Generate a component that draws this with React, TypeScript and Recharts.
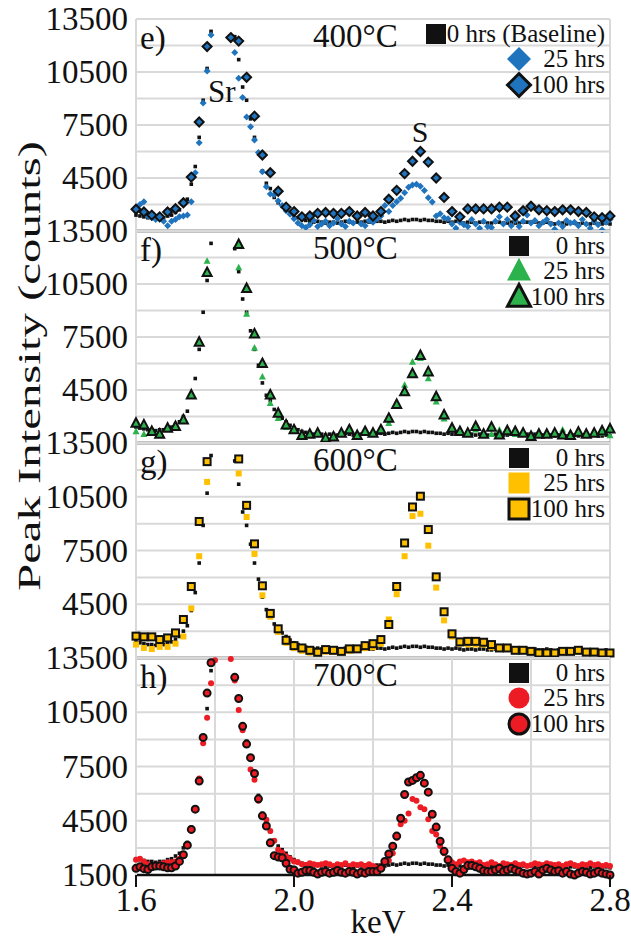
import React from "react";
import { ScatterChart, Scatter, XAxis, YAxis, CartesianGrid } from "recharts";

// energy channels (keV)
const KEV_FINE = [
  1.6, 1.61, 1.62, 1.63, 1.64, 1.65, 1.66, 1.67, 1.68, 1.69,
  1.7, 1.71, 1.72, 1.73, 1.74, 1.75, 1.76, 1.77, 1.78, 1.79,
  1.8, 1.81, 1.82, 1.83, 1.84, 1.85, 1.86, 1.87, 1.88, 1.89,
  1.9, 1.91, 1.92, 1.93, 1.94, 1.95, 1.96, 1.97, 1.98, 1.99,
  2.0, 2.01, 2.02, 2.03, 2.04, 2.05, 2.06, 2.07, 2.08, 2.09,
  2.1, 2.11, 2.12, 2.13, 2.14, 2.15, 2.16, 2.17, 2.18, 2.19,
  2.2, 2.21, 2.22, 2.23, 2.24, 2.25, 2.26, 2.27, 2.28, 2.29,
  2.3, 2.31, 2.32, 2.33, 2.34, 2.35, 2.36, 2.37, 2.38, 2.39,
  2.4, 2.41, 2.42, 2.43, 2.44, 2.45, 2.46, 2.47, 2.48, 2.49,
  2.5, 2.51, 2.52, 2.53, 2.54, 2.55, 2.56, 2.57, 2.58, 2.59,
  2.6, 2.61, 2.62, 2.63, 2.64, 2.65, 2.66, 2.67, 2.68, 2.69,
  2.7, 2.71, 2.72, 2.73, 2.74, 2.75, 2.76, 2.77, 2.78, 2.79,
  2.8,
];
const KEV_COARSE = [
  1.6, 1.62, 1.64, 1.66, 1.68, 1.7, 1.72, 1.74, 1.76, 1.78,
  1.8, 1.82, 1.84, 1.86, 1.88, 1.9, 1.92, 1.94, 1.96, 1.98,
  2.0, 2.02, 2.04, 2.06, 2.08, 2.1, 2.12, 2.14, 2.16, 2.18,
  2.2, 2.22, 2.24, 2.26, 2.28, 2.3, 2.32, 2.34, 2.36, 2.38,
  2.4, 2.42, 2.44, 2.46, 2.48, 2.5, 2.52, 2.54, 2.56, 2.58,
  2.6, 2.62, 2.64, 2.66, 2.68, 2.7, 2.72, 2.74, 2.76, 2.78,
  2.8,
];

// 0 hrs baseline (same sample in every panel), null = above 13500
const BASELINE_0H = [
  2400, 2350, 2300, 2250, 2250, 2200, 2250, 2250, 2350, 2400,
  2550, 2700, 3000, 3300, 4150, 5150, 6800, 8900, 10700, 12800,
  null, null, null, null, null, 12500, 11200, 9650, 8900, 7850,
  6800, 5900, 4900, 4200, 3900, 3400, 3100, 2900, 2700, 2500,
  2350, 2250, 2150, 2100, 2050, 2000, 2050, 2000, 1950, 2000,
  2000, 1950, 2000, 2050, 2000, 1950, 2000, 2000, 2050, 2000,
  2000, 2050, 2050, 2000, 2050, 2100, 2050, 2100, 2150, 2100,
  2150, 2150, 2100, 2150, 2100, 2100, 2050, 2050, 2000, 2050,
  2000, 2050, 2000, 1950, 2000, 2000, 1950, 2000, 2000, 1950,
  1950, 2000, 2000, 1950, 1950, 2000, 1950, 1950, 2000, 2000,
  2000, 2000, 1950, 1950, 2000, 1950, 1900, 1950, 1950, 1900,
  1950, 1950, 1900, 1950, 1900, 1900, 1950, 1900, 1900, 1950,
  1900,
];

// e) 400 °C
const E_25H = [
  2850, 3000, 3150, 2350, 2250, 2150, 2200, 2050, 1800, 2050,
  2150, 2300, 2350, 2400, 3150, 4800, 6500, 8750, 10550, 12600,
  null, null, null, null, 12500, 11600, 10150, 9050, 7950, 7400,
  6650, 5950, 4850, 4000, 3600, 3550, 3200, 2950, 2650, 2450,
  2200, 1950, 1800, 1700, 1850, 2100, 1750, 1900, 2050, 1800,
  1950, 2200, 1900, 1750, 2050, 1950, 2250, 1900, 1800, 2100,
  2000, 2200, 2350, 2950, 2600, 2950, 3150, 3360, 3660, 3980,
  4110, 4150, 4040, 3790, 3380, 3140, 2350, 2480, 2250, 2200,
  1900, 1650, 2000, 1850, 1750, 2150, 1900, 1650, 2050, 1750,
  1700, 2050, 2300, 1900, 2150, 1800, 2100, 1750, 2050, 2400,
  1950, 2100, 1800, 2000, 2150, 1900, 1600, 1950, 1750, 2100,
  1950, 2000, 1800, 2150, 1900, 1650, 2050, 1850, 1550, 2000,
  2150,
];
const E_100H = [
  2730, 2580, 2400, 2300, 2580, 2760, 3100, 4550, 7670, 11940,
  null, null, 12450, 12250, 10200, 8000, 5800, 4800, 3750, 2850,
  2600, 2300, 2350, 2500, 2550, 2500, 2500, 2600, 2350, 2550,
  2350, 2600, 3300, 3800, 4750, 5450, 6000, 5400, 4500, 3400,
  2600, 2300, 2750, 2750, 2750, 2750, 2850, 2850, 2350, 2650,
  2900, 2700, 2650, 2600, 2700, 2700, 2600, 2550, 2300, 2250,
  2350,
];

// f) 500 °C
const F_25H = [
  2160, 2000, 2150, 2050, 2300, 2400, 2750, 4150, 7150, 11800,
  null, null, null, 11430, 8800, 6880, 5250, 3750, 2900, 2400,
  2200, 1950, 2050, 2100, 1900, 1950, 2050, 2300, 2000, 2150,
  2050, 2300, 2620, 3600, 4780, 6090, 6300, 5150, 3840, 2870,
  2300, 2100, 2050, 2250, 2150, 2000, 2250, 2100, 2000, 2050,
  2000, 2150, 2100, 2050, 2250, 2100, 2050, 2000, 2150, 2050,
  1930,
];
const F_100H = [
  2620, 2530, 2160, 2000, 2340, 2440, 2810, 4220, 7210, 11150,
  null, null, null, 12740, 10250, 7680, 6000, 4220, 3190, 2530,
  2250, 1930, 2000, 2060, 1780, 1850, 2060, 2250, 1930, 2150,
  2060, 2250, 2900, 3690, 4400, 5430, 6460, 5530, 4120, 3090,
  2340, 2150, 2060, 2440, 2000, 2400, 1960, 2200, 2150, 2060,
  1880, 2000, 2000, 2060, 1960, 1930, 2120, 2000, 2060, 2190,
  2300,
];

// g) 600 °C
const G_25H = [
  2250, 2060, 2000, 2120, 2120, 2300, 2700, 4270, 7180, 11330,
  null, null, null, 11800, 9370, 7310, 5000, 3800, 2950, 2350,
  2050, 1900, 1800, 1750, 1850, 1850, 1800, 1900, 1950, 2050,
  2100, 2300, 3650, 5060, 7180, 9420, 9550, 7770, 5430, 3600,
  2700, 2300, 2250, 2250, 2250, 2100, 2000, 2000, 1900, 1900,
  1850, 1800, 1800, 1800, 1850, 1850, 1850, 1800, 1800, 1750,
  1800,
];
const G_100H = [
  2720, 2680, 2680, 2530, 2620, 2900, 3650, 5490, 9120, 12460,
  null, null, null, 12610, 10020, 7870, 5530, 3990, 3130, 2490,
  2190, 2060, 1930, 1820, 1970, 1930, 1870, 2010, 2010, 2190,
  2300, 2530, 3370, 5490, 7920, 9930, 10530, 8670, 6030, 4080,
  2850, 2400, 2430, 2430, 2380, 2250, 2060, 2060, 1930, 1930,
  1870, 1780, 1780, 1780, 1870, 1870, 1930, 1830, 1830, 1780,
  1780,
];

// h) 700 °C
const H_25H = [
  2350, 2400, 2250, 2100, 2000, 2050, 2100, 2150, 2200, 2200,
  2250, 2400, 2650, 3200, 3950, 5100, 6830, 8790, 10190, 12100,
  13370, null, null, null, 13450, 12250, 10620, 9500, 8790, 7330,
  6770, 5600, 4800, 4550, 3930, 3400, 2900, 2750, 2530, 2400,
  2250, 2200, 2100, 2050, 2150, 2100, 2050, 2100, 2150, 2100,
  2000, 2100, 2050, 2150, 2000, 2100, 2050, 2100, 2000, 2100,
  2000, 1900, 2000, 2150, 2300, 2700, 3560, 4300, 4500, 4900,
  5700, 5610, 5240, 5140, 4580, 3930, 3740, 3100, 2700, 2400,
  2200, 2100, 2250, 2300, 2200, 2250, 2150, 2200, 2050, 2100,
  2200, 2100, 2000, 2150, 2100, 2050, 2150, 2050, 2100, 2000,
  2050, 2150, 2100, 2050, 2150, 2100, 2050, 2100, 2000, 2100,
  2150, 2050, 2000, 2100, 2050, 2150, 2050, 2100, 2000, 2050,
  2000,
];
const H_100H = [
  1870, 1950, 1850, 1800, 1950, 2000, 2000, 1950, 1900, 1900,
  2000, 2250, 2620, 3150, 4020, 5140, 6700, 9110, 11560, 13240,
  null, null, null, null, null, 12430, 11260, 9720, 8740, 7990,
  7110, 5710, 4770, 4210, 3280, 2570, 2490, 2450, 2150, 1820,
  1780, 1600, 1650, 1750, 1750, 1650, 1550, 1650, 1700, 1600,
  1650, 1750, 1650, 1600, 1700, 1650, 1550, 1650, 1600, 1700,
  1690, 1700, 1870, 2250, 2660, 3090, 3650, 4640, 5950, 6640,
  6730, 6880, 7010, 6580, 6080, 4860, 4150, 3370, 2810, 2340,
  1870, 1690, 1600, 1800, 2020, 2020, 1950, 1870, 1730, 1690,
  1690, 1780, 1870, 1690, 1780, 1870, 1780, 1690, 1600, 1550,
  1600, 1690, 1550, 1780, 1870, 1780, 1690, 1730, 1600, 1690,
  1550, 1500, 1600, 1690, 1650, 1550, 1600, 1700, 1600, 1550,
  1500,
];

const Y_TICKS = [1500, 3000, 4500, 6000, 7500, 9000, 10500, 12000, 13500];
const Y_LABELS = [4500, 7500, 10500, 13500];
const X_TICKS = [1.6, 1.8, 2.0, 2.2, 2.4, 2.6, 2.8];
const X_LABELS = [1.6, 2.0, 2.4, 2.8];

const FONT = "'Liberation Serif', 'Times New Roman', serif";
const GRID = "#d9d9d9";
const BLUE = "#1f74bd";
const GREEN = "#2bb24c";
const GOLD = "#ffc000";
const RED = "#ed1c24";

type Kind = "square" | "diamond" | "triangle" | "circle";

function Marker({ kind, cx, cy, s, fill, stroke, sw = 0 }: { kind: Kind; cx: number; cy: number; s: number; fill: string; stroke?: string; sw?: number }) {
  const st = stroke ? { stroke, strokeWidth: sw } : {};
  if (kind === "square") return <rect x={cx - s / 2} y={cy - s / 2} width={s} height={s} fill={fill} {...st} />;
  if (kind === "circle") return <circle cx={cx} cy={cy} r={s / 2} fill={fill} {...st} />;
  if (kind === "diamond")
    return <polygon points={`${cx},${cy - s / 2} ${cx + s / 2},${cy} ${cx},${cy + s / 2} ${cx - s / 2},${cy}`} fill={fill} {...st} strokeLinejoin="miter" />;
  return <polygon points={`${cx},${cy - s * 0.55} ${cx + s / 2},${cy + s * 0.4} ${cx - s / 2},${cy + s * 0.4}`} fill={fill} {...st} />;
}

const pts = (kev: number[], vals: (number | null)[]) =>
  kev.map((x, i) => ({ x, y: vals[i] })).filter((d) => d.y != null);

interface PanelDef {
  tag: string;
  title: string;
  top: number;
  bottom: number;
  kind: Kind;
  color: string;
  base: string;
  s25: { x: number[]; y: (number | null)[] };
  s100: { x: number[]; y: (number | null)[] };
}

const PANELS: PanelDef[] = [
  { tag: "e)", title: "400°C", top: 19, bottom: 231, kind: "diamond", color: BLUE, base: "0 hrs (Baseline)", s25: { x: KEV_FINE, y: E_25H }, s100: { x: KEV_COARSE, y: E_100H } },
  { tag: "f)", title: "500°C", top: 231, bottom: 443, kind: "triangle", color: GREEN, base: "0 hrs", s25: { x: KEV_COARSE, y: F_25H }, s100: { x: KEV_COARSE, y: F_100H } },
  { tag: "g)", title: "600°C", top: 443, bottom: 658, kind: "square", color: GOLD, base: "0 hrs", s25: { x: KEV_COARSE, y: G_25H }, s100: { x: KEV_COARSE, y: G_100H } },
  { tag: "h)", title: "700°C", top: 658, bottom: 875, kind: "circle", color: RED, base: "0 hrs", s25: { x: KEV_FINE, y: H_25H }, s100: { x: KEV_FINE, y: H_100H } },
];

const SIZE_25: Record<Kind, number> = { diamond: 7, triangle: 7, square: 6, circle: 6 };
const SIZE_100: Record<Kind, number> = { diamond: 9, triangle: 9, square: 7, circle: 7 };

function YTick(props: any) {
  const { x, y, payload, last } = props;
  const v = payload.value;
  if (!(Y_LABELS.includes(v) || (last && v === 1500))) return null;
  return (
    <text x={x} y={y} dy="0.34em" textAnchor="end" fontFamily={FONT} fontSize={33} fill="#111">
      {v}
    </text>
  );
}

function XTick(props: any) {
  const { x, y, payload } = props;
  if (!X_LABELS.includes(payload.value)) return null;
  return (
    <g>
      <line x1={x} x2={x} y1={y - 8} y2={y + 4} stroke="#111" strokeWidth={2} />
      <text x={x} y={y + 28} textAnchor="middle" fontFamily={FONT} fontSize={33} fill="#111">
        {payload.value.toFixed(1)}
      </text>
    </g>
  );
}

const M_TOP = 20;

function Panel({ p, last }: { p: PanelDef; last: boolean }) {
  const xh = last ? 60 : 2;
  const h = p.bottom - p.top + M_TOP + xh;
  return (
    <div style={{ position: "absolute", left: 0, top: p.top - M_TOP }}>
      <ScatterChart width={631} height={h} margin={{ top: M_TOP, right: 21, bottom: 0, left: 0 }}>
        <CartesianGrid stroke={GRID} strokeWidth={2} />
        <XAxis
          type="number"
          dataKey="x"
          domain={[1.6, 2.8]}
          ticks={X_TICKS}
          height={xh}
          axisLine={{ stroke: "#111", strokeWidth: 2.5 }}
          tickLine={false}
          tick={last ? <XTick /> : false}
        />
        <YAxis
          type="number"
          dataKey="y"
          domain={[1500, 13500]}
          ticks={Y_TICKS}
          width={136}
          axisLine={{ stroke: GRID, strokeWidth: 2 }}
          tickLine={false}
          tick={<YTick last={last} />}
        />
        <Scatter
          data={pts(KEV_FINE, BASELINE_0H)}
          isAnimationActive={false}
          shape={(q: any) => <Marker kind="square" cx={q.cx} cy={q.cy} s={3.6} fill="#111" />}
        />
        <Scatter
          data={pts(p.s25.x, p.s25.y)}
          isAnimationActive={false}
          shape={(q: any) => <Marker kind={p.kind} cx={q.cx} cy={q.cy} s={SIZE_25[p.kind]} fill={p.color} />}
        />
        <Scatter
          data={pts(p.s100.x, p.s100.y)}
          isAnimationActive={false}
          shape={(q: any) => <Marker kind={p.kind} cx={q.cx} cy={q.cy} s={SIZE_100[p.kind]} fill={p.color} stroke="#111" sw={2} />}
        />
      </ScatterChart>
    </div>
  );
}

function Overlay() {
  return (
    <svg width={631} height={941} style={{ position: "absolute", left: 0, top: 0, pointerEvents: "none" }} fontFamily={FONT} fill="#111">
      <text transform="translate(40,366) rotate(-90)" textAnchor="middle" fontSize={32} textLength={450} lengthAdjust="spacingAndGlyphs">
        Peak Intensity (counts)
      </text>
      <text x={378} y={933} textAnchor="middle" fontSize={33}>keV</text>
      <text x={208} y={102} fontSize={31}>Sr</text>
      <text x={420} y={142} textAnchor="middle" fontSize={30}>S</text>
      {PANELS.map((p) => {
        const wide = p.base.length > 6;
        return (
          <g key={p.tag}>
            <text x={140} y={p.top + 30} fontSize={33}>{p.tag}</text>
            <text x={313} y={p.top + 28} fontSize={33}>{p.title}</text>
            <Marker kind="square" cx={wide ? 436 : 519} cy={p.top + 15} s={20} fill="#111" />
            <text x={605} y={p.top + 23} textAnchor="end" fontSize={25}>{p.base}</text>
            <Marker kind={p.kind} cx={519} cy={p.top + 40} s={p.kind === "square" || p.kind === "circle" ? 21 : 24} fill={p.color} />
            <text x={605} y={p.top + 48} textAnchor="end" fontSize={25}>25 hrs</text>
            <Marker kind={p.kind} cx={519} cy={p.top + 66} s={p.kind === "square" || p.kind === "circle" ? 20 : 23} fill={p.color} stroke="#111" sw={3} />
            <text x={605} y={p.top + 74} textAnchor="end" fontSize={25}>100 hrs</text>
          </g>
        );
      })}
    </svg>
  );
}

export default function App() {
  return (
    <div style={{ position: "relative", width: 631, height: 941, background: "#fff" }}>
      <style>{"body{margin:0}"}</style>
      {PANELS.map((p, i) => (
        <Panel key={p.tag} p={p} last={i === PANELS.length - 1} />
      ))}
      <Overlay />
    </div>
  );
}
